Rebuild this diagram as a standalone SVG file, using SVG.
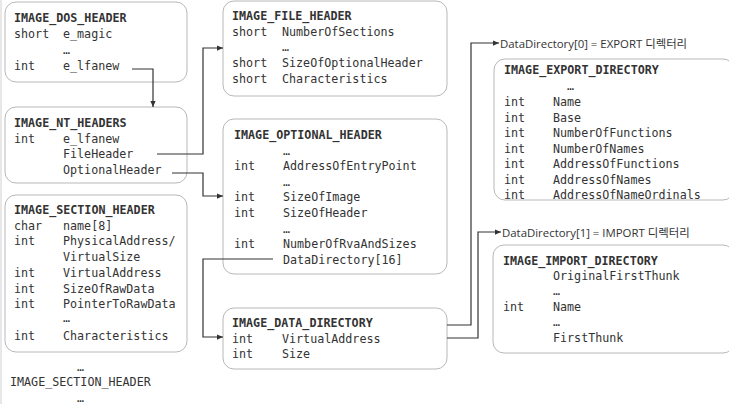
<svg xmlns="http://www.w3.org/2000/svg" width="729" height="404" viewBox="0 0 729 404">
<style>
.box{fill:#fff;stroke:#b8b8b8;stroke-width:1}
.t{font-family:"DejaVu Sans Mono","Liberation Mono",monospace;font-size:11.7px;fill:#333}
.b{font-weight:bold}
.lbl{font-family:"Open Sans","Noto Sans","Noto Sans CJK KR",sans-serif;font-size:11.4px;fill:#333}
.c{fill:none;stroke:#333;stroke-width:1.2}
</style>
<defs>
<marker id="ah" viewBox="0 0 8 8" refX="8" refY="4" markerWidth="6" markerHeight="6" markerUnits="userSpaceOnUse" orient="auto">
<path d="M0,0.5 L8,4 L0,7.5 Z" fill="#333"/>
</marker>
</defs>
<rect width="729" height="404" fill="#fff"/>
<line x1="1" y1="0" x2="1" y2="404" stroke="#d0d0d0" stroke-width="1"/>

<g id="dos_header">
<rect class="box" x="5" y="2" width="182" height="80" rx="11"/>
<text class="t b" x="14" y="22">IMAGE_DOS_HEADER</text>
<text class="t" x="14" y="38">short</text><text class="t" x="63" y="38">e_magic</text>
<text class="t" x="63" y="53.5">…</text>
<text class="t" x="14" y="69.5">int</text><text class="t" x="63" y="69.5">e_lfanew</text>
</g>

<g id="nt_headers">
<rect class="box" x="5" y="107" width="182" height="76" rx="11"/>
<text class="t b" x="14" y="127">IMAGE_NT_HEADERS</text>
<text class="t" x="14" y="142.5">int</text><text class="t" x="63" y="142.5">e_lfanew</text>
<text class="t" x="63" y="158">FileHeader</text>
<text class="t" x="63" y="173.5">OptionalHeader</text>
</g>

<g id="section_header">
<rect class="box" x="5" y="195" width="182" height="157" rx="11"/>
<text class="t b" x="14" y="214">IMAGE_SECTION_HEADER</text>
<text class="t" x="14" y="229.7">char</text><text class="t" x="63" y="229.7">name[8]</text>
<text class="t" x="14" y="245.4">int</text><text class="t" x="63" y="245.4">PhysicalAddress/</text>
<text class="t" x="63" y="261.1">VirtualSize</text>
<text class="t" x="14" y="276.8">int</text><text class="t" x="63" y="276.8">VirtualAddress</text>
<text class="t" x="14" y="292.5">int</text><text class="t" x="63" y="292.5">SizeOfRawData</text>
<text class="t" x="14" y="308.2">int</text><text class="t" x="63" y="308.2">PointerToRawData</text>
<text class="t" x="63" y="322">…</text>
<text class="t" x="14" y="339.6">int</text><text class="t" x="63" y="339.6">Characteristics</text>
</g>

<g id="section_more">
<text class="t" x="77" y="371">…</text>
<text class="t" x="10" y="386">IMAGE_SECTION_HEADER</text>
<text class="t" x="77" y="402">…</text>
</g>

<g id="file_header">
<rect class="box" x="223" y="1" width="224" height="95" rx="11"/>
<text class="t b" x="232" y="20">IMAGE_FILE_HEADER</text>
<text class="t" x="232" y="36">short</text><text class="t" x="282" y="36">NumberOfSections</text>
<text class="t" x="282" y="51">…</text>
<text class="t" x="232" y="67">short</text><text class="t" x="282" y="67">SizeOfOptionalHeader</text>
<text class="t" x="232" y="83">short</text><text class="t" x="282" y="83">Characteristics</text>
</g>

<g id="optional_header">
<rect class="box" x="223" y="119" width="224" height="155" rx="11"/>
<text class="t b" x="234" y="139">IMAGE_OPTIONAL_HEADER</text>
<text class="t" x="283" y="155">…</text>
<text class="t" x="234" y="170">int</text><text class="t" x="283" y="170">AddressOfEntryPoint</text>
<text class="t" x="283" y="185.5">…</text>
<text class="t" x="234" y="201">int</text><text class="t" x="283" y="201">SizeOfImage</text>
<text class="t" x="234" y="217">int</text><text class="t" x="283" y="217">SizeOfHeader</text>
<text class="t" x="283" y="232.5">…</text>
<text class="t" x="234" y="248">int</text><text class="t" x="283" y="248">NumberOfRvaAndSizes</text>
<text class="t" x="283" y="264">DataDirectory[16]</text>
</g>

<g id="data_directory">
<rect class="box" x="223" y="308" width="224" height="61" rx="11"/>
<text class="t b" x="232" y="327">IMAGE_DATA_DIRECTORY</text>
<text class="t" x="232" y="342.5">int</text><text class="t" x="282" y="342.5">VirtualAddress</text>
<text class="t" x="232" y="358">int</text><text class="t" x="282" y="358">Size</text>
</g>

<g id="export_directory">
<text class="lbl" x="500" y="47.5">DataDirectory[0] = EXPORT 디렉터리</text>
<rect class="box" x="494" y="59" width="240" height="141" rx="11"/>
<text class="t b" x="504" y="74">IMAGE_EXPORT_DIRECTORY</text>
<text class="t" x="567" y="90">…</text>
<text class="t" x="504" y="106">int</text><text class="t" x="553" y="106">Name</text>
<text class="t" x="504" y="121.5">int</text><text class="t" x="553" y="121.5">Base</text>
<text class="t" x="504" y="137">int</text><text class="t" x="553" y="137">NumberOfFunctions</text>
<text class="t" x="504" y="152.5">int</text><text class="t" x="553" y="152.5">NumberOfNames</text>
<text class="t" x="504" y="168">int</text><text class="t" x="553" y="168">AddressOfFunctions</text>
<text class="t" x="504" y="183.5">int</text><text class="t" x="553" y="183.5">AddressOfNames</text>
<text class="t" x="504" y="199">int</text><text class="t" x="553" y="199">AddressOfNameOrdinals</text>
</g>

<g id="import_directory">
<text class="lbl" x="502" y="236.5">DataDirectory[1] = IMPORT 디렉터리</text>
<rect class="box" x="493" y="245" width="241" height="108" rx="11"/>
<text class="t b" x="503" y="265">IMAGE_IMPORT_DIRECTORY</text>
<text class="t" x="553" y="280">OriginalFirstThunk</text>
<text class="t" x="553" y="295">…</text>
<text class="t" x="503" y="311">int</text><text class="t" x="553" y="311">Name</text>
<text class="t" x="553" y="326">…</text>
<text class="t" x="553" y="342">FirstThunk</text>
</g>

<g id="connectors">
<path class="c" d="M132,69 H153 V107" marker-end="url(#ah)"/>
<path class="c" d="M157,154 H203 V48 H223" marker-end="url(#ah)"/>
<path class="c" d="M172,173 H203 V196 H223" marker-end="url(#ah)"/>
<path class="c" d="M273,259 H203 V337 H223" marker-end="url(#ah)"/>
<path class="c" d="M447,325 H471 V43 H499" marker-end="url(#ah)"/>
<path class="c" d="M447,338 H478 V232 H501" marker-end="url(#ah)"/>
</g>
</svg>
